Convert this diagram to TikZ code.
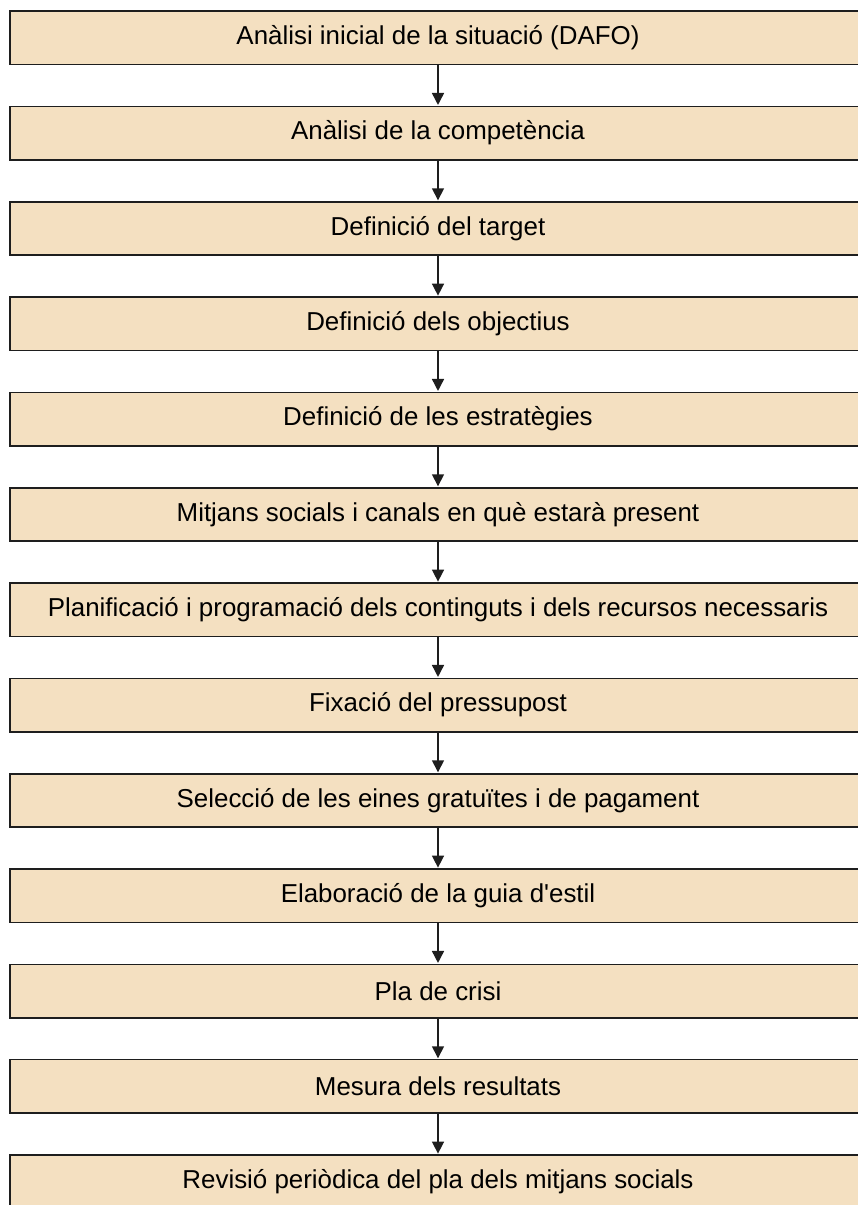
\documentclass[tikz,border=0pt]{standalone}
\usepackage{fontspec}
\setmainfont{Liberation Sans}
\usetikzlibrary{arrows.meta}
\definecolor{boxfill}{HTML}{F4E0C1}
\definecolor{boxline}{HTML}{1E1E1E}
\tikzset{
  stepbox/.style={draw=boxline, line width=1.6pt, fill=boxfill,
    minimum width=856pt, minimum height=53.5pt, inner sep=0pt,
    font=\fontsize{25.9}{30}\selectfont, text=black},
  flowarrow/.style={draw=boxline, line width=1.5pt,
    -{Triangle[length=12pt,width=12pt]}, shorten >=0.6pt}
}
\begin{document}
\begin{tikzpicture}[x=1pt,y=1pt]
\useasboundingbox (0,0) rectangle (858,-1205);
\def\pitch{95.33}
\foreach \i/\t in {0/{Anàlisi inicial de la situació (DAFO)},
  1/{Anàlisi de la competència},
  2/{Definició del target},
  3/{Definició dels objectius},
  4/{Definició de les estratègies},
  5/{Mitjans socials i canals en què estarà present},
  6/{Planificació i programació dels continguts i dels recursos necessaris},
  7/{Fixació del pressupost},
  8/{Selecció de les eines gratuïtes i de pagament},
  9/{Elaboració de la guia d\textquotesingle estil},
  10/{Pla de crisi},
  11/{Mesura dels resultats},
  12/{Revisió periòdica del pla dels mitjans socials}}
{
  \node[stepbox] (b\i) at (438,{-(37.8+\i*\pitch)}) {\t};
}
\foreach \i [evaluate=\i as \j using int(\i+1)] in {0,...,11}
{
  \draw[flowarrow] (b\i.south) -- (b\j.north);
}
\end{tikzpicture}
\end{document}
